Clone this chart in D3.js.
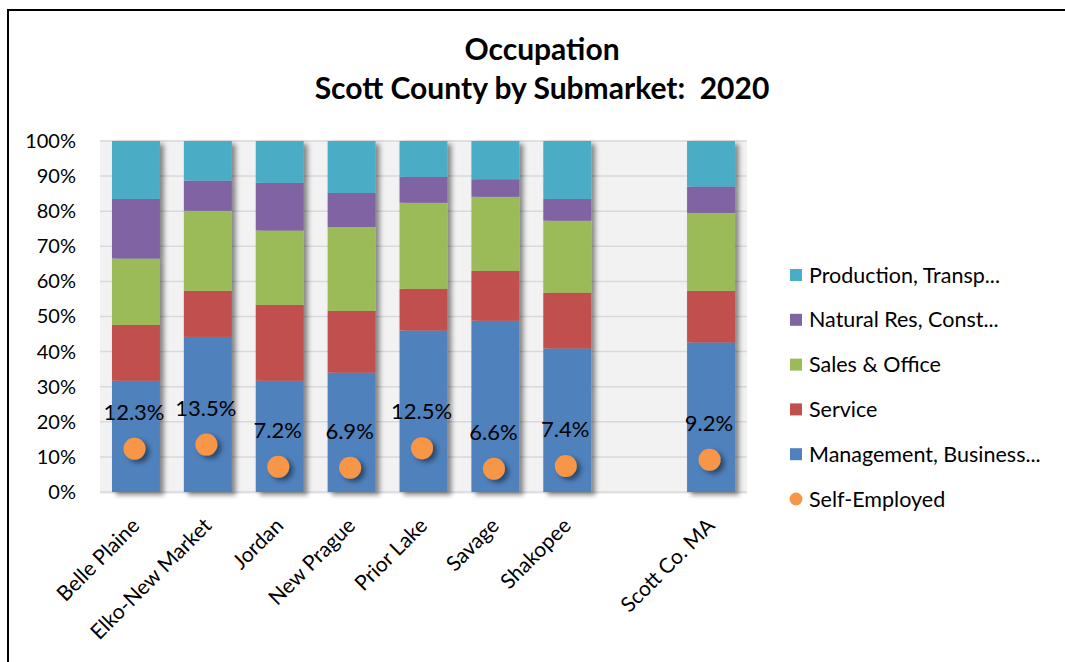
<!DOCTYPE html>
<html>
<head>
<meta charset="utf-8">
<script src="https://cdn.jsdelivr.net/npm/d3@7"></script>
<style>
  html, body { margin: 0; padding: 0; background: #fff; }
  svg { display: block; font-family: Lato, "Open Sans", sans-serif; }
</style>
</head>
<body>
<svg id="chart" width="1065" height="662"></svg>
<script>
// Submarkets; the blank entry leaves an empty slot before the county total
const categories = ["Belle Plaine", "Elko-New Market", "Jordan", "New Prague", "Prior Lake", "Savage", "Shakopee", "", "Scott Co. MA"];

// Share of employed residents by occupation group (fractions of 1)
const management = [0.317, 0.442, 0.317, 0.340, 0.460, 0.488, 0.409, null, 0.426];
const service    = [0.159, 0.131, 0.216, 0.176, 0.119, 0.142, 0.159, null, 0.147];
const salesOffice = [0.189, 0.228, 0.212, 0.239, 0.245, 0.211, 0.205, null, 0.222];
const naturalRes = [0.170, 0.086, 0.136, 0.097, 0.074, 0.050, 0.062, null, 0.075];
const production = [0.165, 0.113, 0.119, 0.148, 0.102, 0.109, 0.165, null, 0.130];

// Self-employed share
const selfEmployed = [0.123, 0.135, 0.072, 0.069, 0.125, 0.066, 0.074, null, 0.092];

const seriesNames = ["Management, Business...", "Service", "Sales & Office", "Natural Res, Const...", "Production, Transp..."];
const seriesColors = ["#4f81bd", "#c0504d", "#9bbb59", "#8064a2", "#4bacc6"];
const selfEmployedName = "Self-Employed";
const selfEmployedColor = "#f79646";

const yTicks = [0, 0.1, 0.2, 0.3, 0.4, 0.5, 0.6, 0.7, 0.8, 0.9, 1.0];

const svg = d3.select("#chart");

// drop shadow used by the bars and dots
const defs = svg.append("defs");
const shadow = defs.append("filter").attr("id", "shadow")
  .attr("x", "-30%").attr("y", "-10%").attr("width", "160%").attr("height", "130%");
shadow.append("feDropShadow")
  .attr("dx", 4).attr("dy", 3).attr("stdDeviation", 2.6)
  .attr("flood-color", "#000").attr("flood-opacity", 0.45);

// outer frame
svg.append("rect")
  .attr("x", 8).attr("y", 10).attr("width", 1200).attr("height", 800)
  .attr("fill", "none").attr("stroke", "#000").attr("stroke-width", 2);

// title
const title = svg.append("text")
  .attr("text-anchor", "middle")
  .attr("font-weight", "bold")
  .attr("font-size", 30)
  .attr("fill", "#000")
  .style("white-space", "pre");
title.append("tspan").attr("x", 542).attr("y", 60).text("Occupation");
title.append("tspan").attr("x", 542).attr("y", 99).text("Scott County by Submarket:  2020");

const plot = { left: 100, right: 747, top: 141, bottom: 492 };

const x = d3.scaleBand()
  .domain(categories.map((c, i) => i))
  .range([plot.left, plot.right])
  .paddingInner(0.333)
  .paddingOuter(0.1667);

const y = d3.scaleLinear()
  .domain([0, 1])
  .range([plot.bottom, plot.top]);

// plot background
svg.append("rect")
  .attr("x", plot.left).attr("y", plot.top - 1)
  .attr("width", plot.right - plot.left).attr("height", plot.bottom - plot.top + 3)
  .attr("fill", "#f2f2f2");

// gridlines
svg.append("g")
  .selectAll("line")
  .data(yTicks)
  .join("line")
  .attr("x1", plot.left).attr("x2", plot.right)
  .attr("y1", d => y(d)).attr("y2", d => y(d))
  .attr("stroke", "#d9d9d9").attr("stroke-width", 1.5);

// y axis labels
const yAxis = d3.axisLeft(y)
  .tickValues(yTicks)
  .tickFormat(d3.format(".0%"))
  .tickSize(0)
  .tickPadding(0);
const yG = svg.append("g")
  .attr("transform", `translate(76,0)`)
  .call(yAxis);
yG.select(".domain").remove();
yG.selectAll("text")
  .attr("font-family", "Lato, 'Open Sans', sans-serif")
  .attr("font-size", 20)
  .attr("fill", "#000");

// stacked bars
const rows = categories.map((c, i) => ({
  idx: i,
  s0: management[i], s1: service[i], s2: salesOffice[i], s3: naturalRes[i], s4: production[i]
}));
const keys = ["s0", "s1", "s2", "s3", "s4"];
const stacked = d3.stack().keys(keys).value((d, k) => d[k] == null ? 0 : d[k])(rows);

const barsG = svg.append("g").attr("filter", "url(#shadow)");
barsG.selectAll("g")
  .data(stacked)
  .join("g")
  .attr("fill", (d, i) => seriesColors[i])
  .selectAll("rect")
  .data(d => d.filter(p => p.data[d.key] != null))
  .join("rect")
  .attr("x", p => x(p.data.idx))
  .attr("width", x.bandwidth())
  .attr("y", p => y(p[1]))
  .attr("height", p => y(p[0]) - y(p[1]));

// self-employed markers
const dotData = selfEmployed.map((v, i) => ({ idx: i, v })).filter(d => d.v != null);
svg.append("g").attr("filter", "url(#shadow)")
  .selectAll("circle")
  .data(dotData)
  .join("circle")
  .attr("cx", d => x(d.idx) + x.bandwidth() / 2 - 1.5)
  .attr("cy", d => y(d.v))
  .attr("r", 11)
  .attr("fill", selfEmployedColor);

// value labels above the markers
svg.append("g")
  .selectAll("text")
  .data(dotData)
  .join("text")
  .attr("x", d => x(d.idx) + x.bandwidth() / 2 - 2)
  .attr("y", d => y(d.v) - 29)
  .attr("text-anchor", "middle")
  .attr("font-size", 22)
  .attr("fill", "#000")
  .text(d => d3.format(".1%")(d.v));

// category labels
svg.append("g")
  .selectAll("text")
  .data(categories.map((c, i) => ({ c, i })).filter(d => d.c !== ""))
  .join("text")
  .attr("transform", d => `translate(${x(d.i) + x.bandwidth() / 2 + 5},527) rotate(-45)`)
  .attr("text-anchor", "end")
  .attr("font-size", 21)
  .attr("fill", "#000")
  .text(d => d.c);

// legend
const legendItems = seriesNames.map((n, i) => ({ name: n, color: seriesColors[i], type: "rect" })).reverse();
legendItems.push({ name: selfEmployedName, color: selfEmployedColor, type: "circle" });

const legend = svg.append("g");
const li = legend.selectAll("g")
  .data(legendItems)
  .join("g")
  .attr("transform", (d, i) => `translate(790,${275 + i * 44.8})`);
li.filter(d => d.type === "rect").append("rect")
  .attr("x", 0).attr("y", -6).attr("width", 12).attr("height", 12)
  .attr("fill", d => d.color);
li.filter(d => d.type === "circle").append("circle")
  .attr("cx", 6).attr("cy", 0).attr("r", 6.5)
  .attr("fill", d => d.color);
li.append("text")
  .attr("x", 19).attr("y", 7.5)
  .attr("font-size", 21.5)
  .attr("fill", "#000")
  .text(d => d.name);
</script>
</body>
</html>
